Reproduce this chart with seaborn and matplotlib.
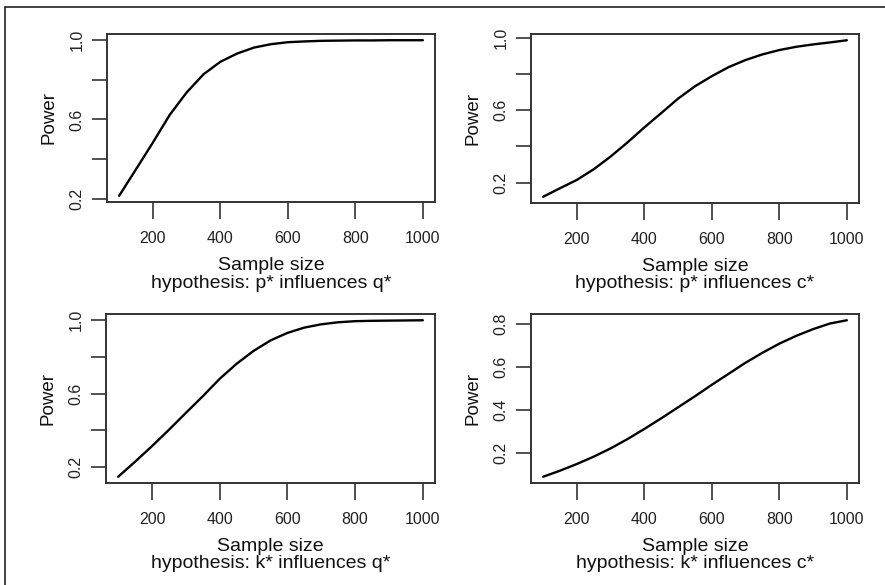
import matplotlib
matplotlib.use("Agg")
import matplotlib.pyplot as plt
from matplotlib.lines import Line2D
import seaborn as sns

sample_sizes = [100, 150, 200, 250, 300, 350, 400, 450, 500, 550,
                600, 650, 700, 750, 800, 850, 900, 950, 1000]

power_pq = [0.214, 0.348, 0.483, 0.623, 0.736, 0.828, 0.891, 0.933, 0.963, 0.980,
            0.990, 0.994, 0.997, 0.998, 0.999, 0.999, 1.000, 1.000, 1.000]
power_pc = [0.122, 0.169, 0.215, 0.274, 0.344, 0.422, 0.505, 0.584, 0.664, 0.732,
            0.788, 0.838, 0.877, 0.908, 0.932, 0.950, 0.963, 0.974, 0.986]
power_kq = [0.147, 0.229, 0.314, 0.403, 0.495, 0.586, 0.681, 0.763, 0.833, 0.890,
            0.931, 0.960, 0.978, 0.989, 0.995, 0.997, 0.998, 0.999, 1.000]
power_kc = [0.092, 0.120, 0.151, 0.185, 0.223, 0.266, 0.313, 0.362, 0.413, 0.464,
            0.517, 0.568, 0.619, 0.665, 0.707, 0.743, 0.774, 0.800, 0.815]

titles = ["hypothesis: p* influences q*", "hypothesis: p* influences c*",
          "hypothesis: k* influences q*", "hypothesis: k* influences c*"]
x_ticks = [200, 400, 600, 800, 1000]
y_ticks_long = [0.2, 0.4, 0.6, 0.8, 1.0]
y_labels_long = ["0.2", "", "0.6", "", "1.0"]
y_ticks_short = [0.2, 0.4, 0.6, 0.8]
y_labels_short = ["0.2", "0.4", "0.6", "0.8"]

sns.set_style("ticks")
plt.rcParams["font.family"] = ["Liberation Sans", "DejaVu Sans"]

W, H = 885, 585
fig = plt.figure(figsize=(W / 100, H / 100), dpi=100)

# panel boxes in pixels: left, top, right, bottom
boxes = [(107, 34, 435, 202), (531, 34, 859, 203),
         (106, 314, 435, 483), (531, 314, 859, 483)]
series = [power_pq, power_pc, power_kq, power_kc]

for (l, t, r, b), vals, title, idx in zip(boxes, series, titles, range(4)):
    ax = fig.add_axes([l / W, 1 - b / H, (r - l) / W, (b - t) / H])
    sns.lineplot(x=sample_sizes, y=vals, ax=ax, color="black", linewidth=1.7)

    # R-style 4% padding
    xr = max(sample_sizes) - min(sample_sizes)
    ax.set_xlim(min(sample_sizes) - 0.04 * xr, max(sample_sizes) + 0.04 * xr)
    yr = max(vals) - min(vals)
    ax.set_ylim(min(vals) - 0.04 * yr, max(vals) + 0.04 * yr)

    ax.set_xticks(x_ticks)
    ax.set_xticklabels([str(v) for v in x_ticks])
    if idx == 3:
        ax.set_yticks(y_ticks_short)
        ax.set_yticklabels(y_labels_short, rotation=90, va="center")
    else:
        ax.set_yticks(y_ticks_long)
        ax.set_yticklabels(y_labels_long, rotation=90, va="center")

    ax.tick_params(axis="both", length=11, width=1.2, color="#333333",
                   labelsize=11.5, labelcolor="#222222")
    ax.tick_params(axis="x", length=12.5, pad=8.5)
    ax.tick_params(axis="y", pad=5)
    for sp in ax.spines.values():
        sp.set_visible(True)
        sp.set_linewidth(1.4)
        sp.set_color("#333333")

    ax.set_xlabel("Sample size", fontsize=14, labelpad=8, color="#111111")
    ax.set_ylabel("Power", fontsize=13.5, labelpad=9, color="#111111")
    ax.annotate(title, xy=(0.5, 0), xycoords="axes fraction",
                xytext=(0, -81 * 0.72), textcoords="offset points",
                ha="center", va="center", fontsize=14, color="#111111")

# outer frame lines (left and top)
fig.add_artist(Line2D([5 / W, 5 / W], [0, 1 - 7 / H], transform=fig.transFigure,
                      color="#222222", linewidth=1.2))
fig.add_artist(Line2D([5 / W, 1], [1 - 7 / H, 1 - 7 / H], transform=fig.transFigure,
                      color="#222222", linewidth=1.2))

fig.savefig("out.png", dpi=100)
plt.close(fig)
